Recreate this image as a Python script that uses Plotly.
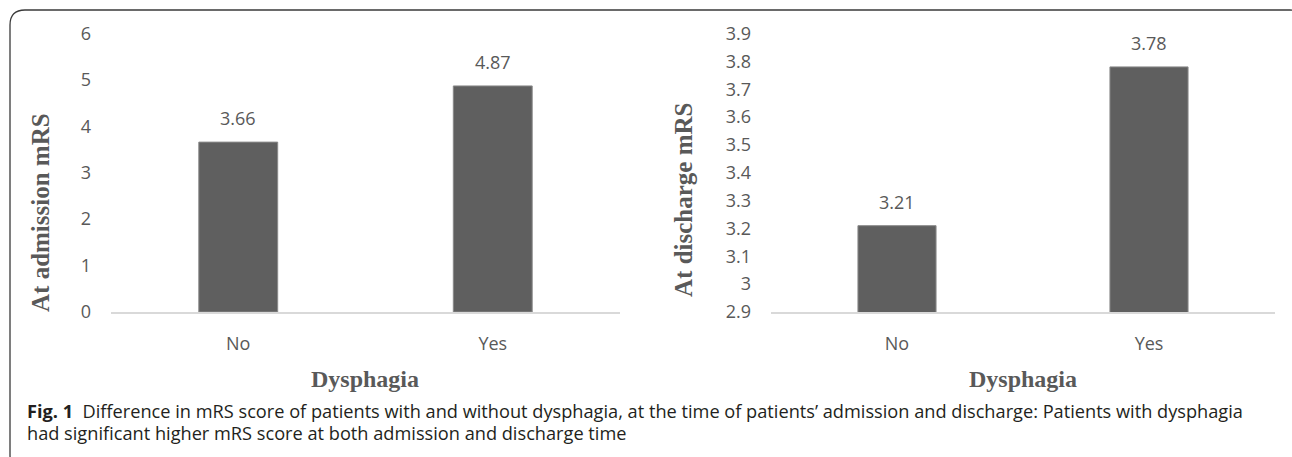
import plotly.graph_objects as go

W, H = 1292, 457

# Data
categories = ["No", "Yes"]
admission_mrs = [3.66, 4.87]
discharge_mrs = [3.21, 3.78]
admission_ticks = [0, 1, 2, 3, 4, 5, 6]
discharge_ticks = [2.9, 3.0, 3.1, 3.2, 3.3, 3.4, 3.5, 3.6, 3.7, 3.8, 3.9]
discharge_tick_text = ["2.9", "3", "3.1", "3.2", "3.3", "3.4", "3.5", "3.6", "3.7", "3.8", "3.9"]


def px(x):
    return x / W


def py(y):
    return 1 - y / H


BAR = "#5f5f5f"
EDGE = "#8a8a8a"
TXT = "#595959"
TICK_FONT = dict(family="Open Sans", size=18, color=TXT)
TITLE_FONT = dict(family="Liberation Serif", size=24, color=TXT)
YTITLE_FONT = dict(family="Liberation Serif", size=25, color=TXT)

fig = go.Figure()

fig.add_trace(go.Bar(
    x=categories, y=admission_mrs, xaxis="x", yaxis="y",
    marker=dict(color=BAR, line=dict(color=EDGE, width=1)),
    width=0.31, hoverinfo="skip",
))
fig.add_trace(go.Bar(
    x=categories, y=discharge_mrs, xaxis="x2", yaxis="y2",
    marker=dict(color=BAR, line=dict(color=EDGE, width=1)),
    width=0.31, hoverinfo="skip",
))

ydom = [py(312), py(33.5)]
common_x = dict(showline=True, linecolor="#d9d9d9", linewidth=2, ticks="",
                showgrid=False, zeroline=False, tickfont=TICK_FONT,
                ticklabelstandoff=14, fixedrange=True, automargin=False)
common_y = dict(showline=False, showgrid=False, zeroline=False, ticks="",
                tickfont=TICK_FONT, ticklabelstandoff=19, fixedrange=True,
                automargin=False)

fig.update_layout(
    width=W, height=H,
    margin=dict(l=0, r=0, t=0, b=0, pad=0, autoexpand=False),
    paper_bgcolor="white", plot_bgcolor="white",
    showlegend=False,
    xaxis=dict(domain=[px(111), px(620)], anchor="y", **common_x),
    yaxis=dict(domain=ydom, anchor="x", range=[0, 6],
               tickvals=admission_ticks, **common_y),
    xaxis2=dict(domain=[px(771), px(1275)], anchor="y2", **common_x),
    yaxis2=dict(domain=ydom, anchor="x2", range=[2.9, 3.9],
                tickvals=discharge_ticks, ticktext=discharge_tick_text, **common_y),
)

annotations = []
# value labels above each bar
for xr, yr, vals in (("x", "y", admission_mrs), ("x2", "y2", discharge_mrs)):
    for c, v in zip(categories, vals):
        annotations.append(dict(
            x=c, y=v, xref=xr, yref=yr, text=f"{v:.2f}", showarrow=False,
            yanchor="middle", yshift=24, font=TICK_FONT,
        ))


# axis titles
def label(x, y, text, angle=0, font=TITLE_FONT):
    return dict(x=px(x), y=py(y), xref="paper", yref="paper", text=text,
                textangle=angle, showarrow=False, font=font,
                xanchor="center", yanchor="middle")


annotations += [
    label(40, 213, "<b>At admission mRS</b>", -90, YTITLE_FONT),
    label(683, 200, "<b>At discharge mRS</b>", -90, YTITLE_FONT),
    label(365, 379, "<b>Dysphagia</b>"),
    label(1023, 379, "<b>Dysphagia</b>"),
]

# figure caption
CAP_FONT = dict(family="Open Sans", size=18.2, color="#231f20")
annotations += [
    dict(x=px(25), y=py(411), xref="paper", yref="paper", xanchor="left", yanchor="middle",
         text="<b>Fig. 1</b>  Difference in mRS score of patients with and without dysphagia, "
              "at the time of patients\u2019 admission and discharge: Patients with dysphagia",
         showarrow=False, font=CAP_FONT),
    dict(x=px(25), y=py(433), xref="paper", yref="paper", xanchor="left", yanchor="middle",
         text="had significant higher mRS score at both admission and discharge time",
         showarrow=False, font=CAP_FONT),
]
fig.update_layout(annotations=annotations)

# rounded frame around the figure
L, T, R, B, r = 10, 10, 1305, 470, 15
path = (
    f"M {px(L)},{py(T + r)} Q {px(L)},{py(T)} {px(L + r)},{py(T)} "
    f"L {px(R - r)},{py(T)} Q {px(R)},{py(T)} {px(R)},{py(T + r)} "
    f"L {px(R)},{py(B - r)} Q {px(R)},{py(B)} {px(R - r)},{py(B)} "
    f"L {px(L + r)},{py(B)} Q {px(L)},{py(B)} {px(L)},{py(B - r)} Z"
)
fig.add_shape(type="path", path=path, xref="paper", yref="paper",
              line=dict(color="#3a3a3a", width=1.3), layer="below")

fig.write_html("out.html", config={"displayModeBar": False})
